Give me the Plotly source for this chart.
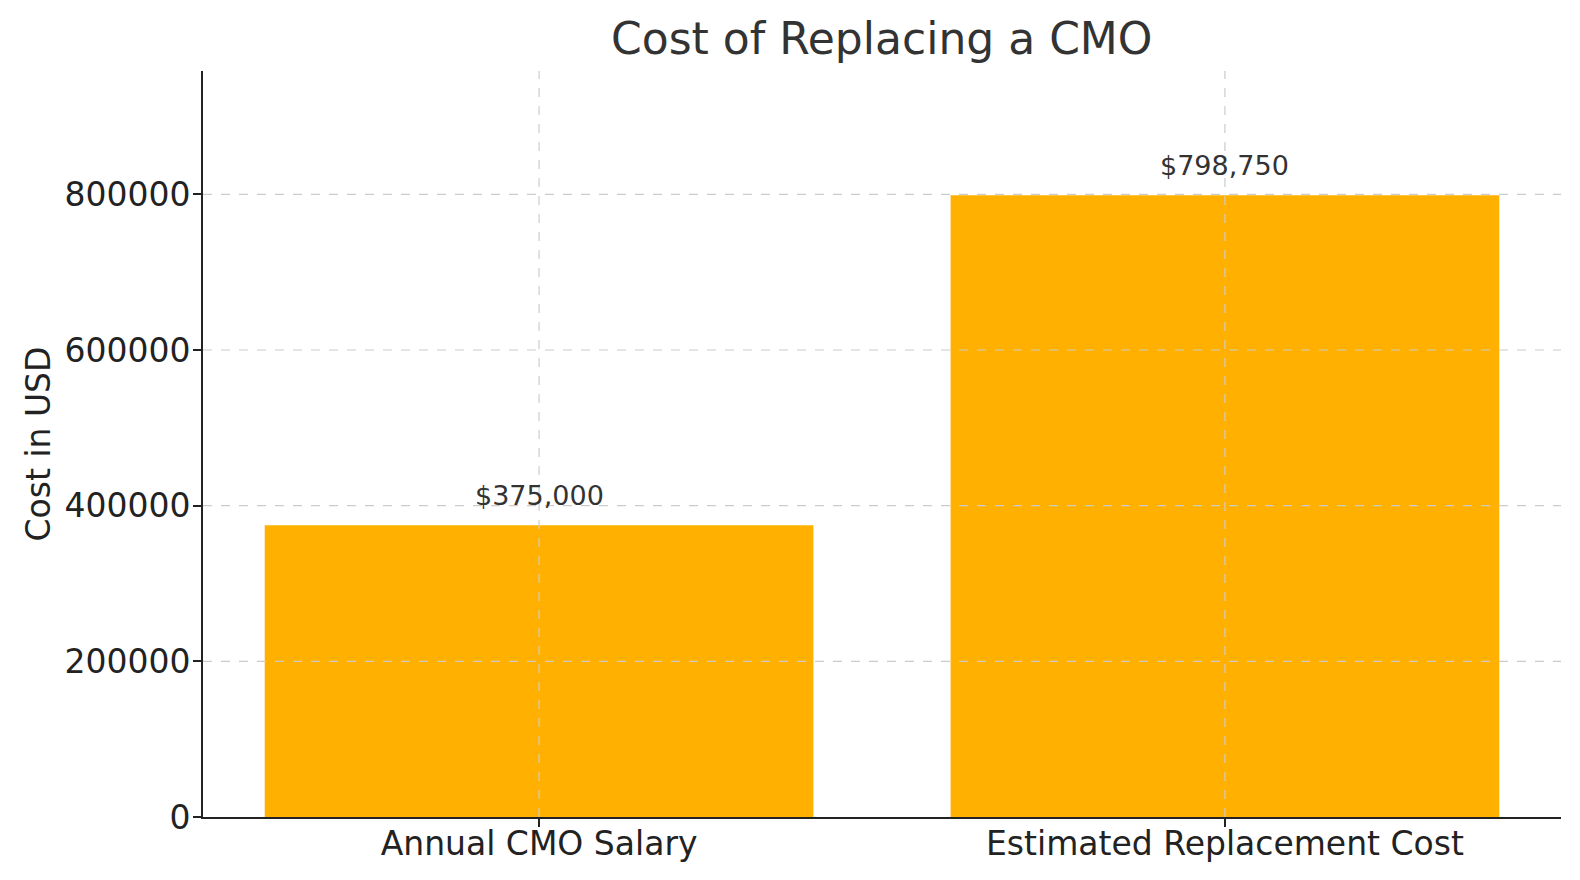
import plotly.graph_objects as go

# data
categories = ["Annual CMO Salary", "Estimated Replacement Cost"]
costs = [375000, 798750]
y_ticks = [0, 200000, 400000, 600000, 800000]

BAR_COLOR = "#FFB000"
GRID_COLOR = "#CCCCCC"
FONT = "DejaVu Sans, Verdana, sans-serif"

fig = go.Figure()
fig.add_trace(go.Bar(
    x=categories, y=costs,
    width=0.8,
    marker=dict(color=BAR_COLOR, line=dict(width=0)),
    showlegend=False,
))

# value labels above bars
for cat, val in zip(categories, costs):
    fig.add_annotation(
        x=cat, y=val, text=f"${val:,.0f}",
        showarrow=False, yanchor="bottom", yshift=12,
        font=dict(family=FONT, size=27, color="#333333"),
    )

# dashed grid drawn above the bars, like the original
for t in y_ticks[1:]:
    fig.add_shape(type="line", xref="paper", yref="y", x0=0, x1=1, y0=t, y1=t,
                  line=dict(color=GRID_COLOR, width=1.2, dash="dash"), layer="above")
for i in range(len(categories)):
    fig.add_shape(type="line", xref="x", yref="paper", x0=i, x1=i, y0=0, y1=1,
                  line=dict(color=GRID_COLOR, width=1.2, dash="dash"), layer="above")

fig.update_layout(
    width=1580, height=880,
    margin=dict(l=195, r=27, t=63, b=71),
    plot_bgcolor="white", paper_bgcolor="white",
    font=dict(family=FONT, size=33, color="#222222"),
    title=dict(text="Cost of Replacing a CMO", x=0.553, xanchor="center",
               y=0.965, yanchor="middle",
               font=dict(family=FONT, size=44, color="#333333")),
    bargap=0.2,
)
fig.update_xaxes(
    range=[-0.49, 1.49], showgrid=False, zeroline=False,
    showline=True, linecolor="#222222", linewidth=2,
    ticks="outside", ticklen=8, tickwidth=1.5, tickcolor="#222222",
    ticklabelstandoff=-12,
    tickfont=dict(size=33, color="#222222"),
)
fig.update_yaxes(
    range=[0, max(costs) * 1.2], showgrid=False, zeroline=False,
    tickvals=y_ticks, ticktext=[str(t) for t in y_ticks],
    showline=True, linecolor="#222222", linewidth=2,
    ticks="outside", ticklen=8, tickwidth=1.5, tickcolor="#222222",
    ticklabelstandoff=-4,
    tickfont=dict(size=33, color="#222222"),
    title=dict(text="Cost in USD", font=dict(size=33, color="#222222"), standoff=4),
)

fig.write_html("out.html")
